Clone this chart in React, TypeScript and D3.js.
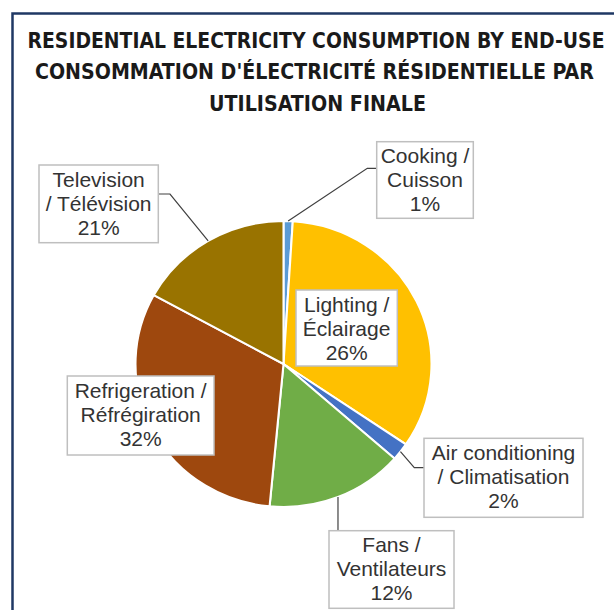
import React from "react";
import * as d3 from "d3";

// values (angles), labels keep the printed percentages
const categories = ["Cooking", "Lighting", "Air conditioning", "Fans", "Refrigeration", "Television"];
const sliceShares = [1, 33.5, 2, 15, 31.5, 17];
const labelLines = [
  ["Cooking /", "Cuisson"],
  ["Lighting /", "Éclairage"],
  ["Air conditioning", "/ Climatisation"],
  ["Fans /", "Ventilateurs"],
  ["Refrigeration /", "Réfrégiration"],
  ["Television", "/ Télévision"],
];
const labelPercents = ["1%", "26%", "2%", "12%", "32%", "21%"];
const titleLines = [
  "RESIDENTIAL ELECTRICITY CONSUMPTION BY END-USE",
  "CONSOMMATION D'ÉLECTRICITÉ RÉSIDENTIELLE PAR",
  "UTILISATION FINALE",
];

const colors = ["#5B9BD5", "#FFC000", "#4472C4", "#70AD47", "#9E480E", "#997300"];

// label box layout (x, y, w, h) and leader bends
const boxes = [
  { x: 376.7, y: 141.7, w: 96.6, h: 76.6 },
  { x: 296, y: 290, w: 101.3, h: 76 },
  { x: 424, y: 438.3, w: 159, h: 79 },
  { x: 329, y: 530.7, w: 125, h: 77.6 },
  { x: 67.3, y: 376, w: 146.7, h: 79 },
  { x: 39, y: 165, w: 119.3, h: 77.7 },
];
const leaderBends = [
  [[367.3, 168.3], [376.7, 168.3]],
  null,
  [[414.3, 467.7], [424, 467.7]],
  [["start", 530.7]],
  null,
  [[170, 194], [158.3, 194]],
];

const cx = 283.5;
const cy = 364;
const ry = 143;
const sx = 1.035;
const rx = ry * sx;

const font = "'Liberation Sans', Arial, sans-serif";

export default function App() {
  const pie = d3.pie<number>().sort(null).value(d => d);
  const arcs = pie(sliceShares);
  const arc = d3.arc<d3.PieArcDatum<number>>().innerRadius(0).outerRadius(ry);

  const titleWidths = [577, 559, 217];
  const titleCx = [316, 314.5, 317.5];
  const titleY = [47.5, 79, 110.5];

  return (
    <svg
      width={614}
      height={610}
      style={{ position: "absolute", left: 0, top: 0, background: "#fff" }}
    >
      <rect x={0} y={0} width={614} height={610} fill="#fff" />
      <rect x={12.5} y={13.5} width={700} height={700} fill="none" stroke="#1F3864" strokeWidth={2.5} />

      {titleLines.map((t, i) => (
        <text
          key={t}
          x={titleCx[i]}
          y={titleY[i]}
          textAnchor="middle"
          textLength={titleWidths[i]}
          lengthAdjust="spacingAndGlyphs"
          fontFamily="'Liberation Sans Narrow', 'DejaVu Sans Condensed', sans-serif"
          fontWeight="bold"
          fontSize={21}
          fill="#1a1a1a"
        >
          {t}
        </text>
      ))}

      <g transform={`translate(${cx},${cy}) scale(${sx},1)`}>
        {arcs.map((a, i) => (
          <path key={categories[i]} d={arc(a) || ""} fill={colors[i]} stroke="#fff" strokeWidth={2} />
        ))}
      </g>

      {arcs.map((a, i) => {
        const bends = leaderBends[i];
        if (!bends) return null;
        const mid = (a.startAngle + a.endAngle) / 2;
        const x0 = cx + rx * Math.sin(mid);
        const y0 = cy - ry * Math.cos(mid);
        const pts = [[x0, y0], ...bends.map(p => [p[0] === "start" ? x0 : (p[0] as number), p[1] as number])];
        return (
          <polyline
            key={"l" + i}
            points={pts.map(p => p.join(",")).join(" ")}
            fill="none"
            stroke="#404040"
            strokeWidth={1.2}
          />
        );
      })}

      {boxes.map((b, i) => {
        const lines = [...labelLines[i], labelPercents[i]];
        return (
          <g key={"b" + i}>
            <rect x={b.x} y={b.y} width={b.w} height={b.h} fill="#fff" stroke="#BFBFBF" strokeWidth={1.5} />
            {lines.map((ln, j) => (
              <text
                key={j}
                x={b.x + b.w / 2}
                y={b.y + 21.5 + j * 24}
                textAnchor="middle"
                fontFamily={font}
                fontSize={21}
                fill="#333"
              >
                {ln}
              </text>
            ))}
          </g>
        );
      })}
    </svg>
  );
}
